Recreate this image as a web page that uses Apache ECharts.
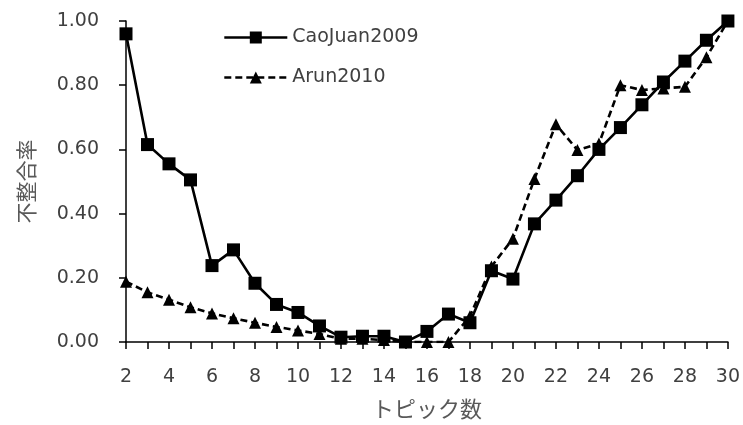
<!DOCTYPE html>
<html>
<head>
<meta charset="utf-8">
<script src="https://cdn.jsdelivr.net/npm/echarts@6/dist/echarts.min.js"></script>
<style>html,body{margin:0;padding:0;background:#fff}#c{width:743px;height:425px}</style>
</head>
<body>
<div id="c"></div>
<script>
var categories = ['2','3','4','5','6','7','8','9','10','11','12','13','14','15','16','17','18','19','20','21','22','23','24','25','26','27','28','29','30'];
var caoJuan2009 = [0.96,0.615,0.555,0.505,0.238,0.287,0.183,0.117,0.092,0.05,0.015,0.018,0.018,0.0,0.033,0.087,0.06,0.222,0.196,0.368,0.442,0.518,0.6,0.668,0.739,0.81,0.875,0.94,1.0];
var arun2010 = [0.188,0.155,0.132,0.108,0.089,0.074,0.06,0.047,0.036,0.025,0.01,0.01,0.006,0.0,0.0,0.0,0.08,0.235,0.322,0.508,0.678,0.598,0.618,0.8,0.785,0.79,0.795,0.887,1.0];
var seriesNames = ['CaoJuan2009', 'Arun2010'];
var xTitle = 'トピック数';
var yTitle = '不整合率';

var FONT = "'DejaVu Sans', 'Noto Sans CJK JP', sans-serif";
var CJK = "'Noto Sans CJK JP', sans-serif";
var chart = echarts.init(document.getElementById('c'), null, {renderer: 'canvas'});
chart.setOption({
  animation: false,
  backgroundColor: '#ffffff',
  textStyle: {fontFamily: FONT},
  grid: {left: 126, right: 15, top: 21, bottom: 80, containLabel: false},
  legend: {
    orient: 'vertical', left: 218, top: 23, itemGap: 21,
    itemWidth: 63, itemHeight: 15,
    lineStyle: {width: 2.6},
    textStyle: {fontSize: 19, color: '#404040', fontFamily: FONT},
    data: seriesNames
  },
  xAxis: {
    type: 'category', data: categories, boundaryGap: false,
    name: xTitle, nameLocation: 'middle', nameGap: 56,
    nameTextStyle: {fontSize: 22, color: '#595959', fontFamily: CJK},
    axisLine: {lineStyle: {color: '#000', width: 1.5}},
    axisTick: {show: true, interval: 0, length: 7, inside: false, lineStyle: {color: '#000', width: 1.5}},
    axisLabel: {interval: 1, fontSize: 19, color: '#404040', margin: 26, fontFamily: FONT},
    splitLine: {show: false}
  },
  yAxis: {
    type: 'value', min: 0, max: 1, interval: 0.2,
    name: yTitle, nameLocation: 'middle', nameGap: 89, nameRotate: 90,
    nameTextStyle: {fontSize: 21, color: '#595959', fontFamily: CJK},
    axisLine: {show: true, lineStyle: {color: '#000', width: 1.5}},
    axisTick: {show: true, length: 7, lineStyle: {color: '#000', width: 1.5}},
    axisLabel: {fontSize: 19, color: '#404040', margin: 27, fontFamily: FONT,
      formatter: function (v) { return v.toFixed(2); }},
    splitLine: {show: false}
  },
  series: [
    {
      name: seriesNames[0], type: 'line', data: caoJuan2009,
      symbol: 'rect', symbolSize: 13,
      itemStyle: {color: '#000'},
      lineStyle: {color: '#000', width: 2.6, type: 'solid'}
    },
    {
      name: seriesNames[1], type: 'line', data: arun2010,
      symbol: 'triangle', symbolSize: 12,
      itemStyle: {color: '#000'},
      lineStyle: {color: '#000', width: 2.6, type: [7, 4]}
    }
  ]
});
</script>
</body>
</html>
